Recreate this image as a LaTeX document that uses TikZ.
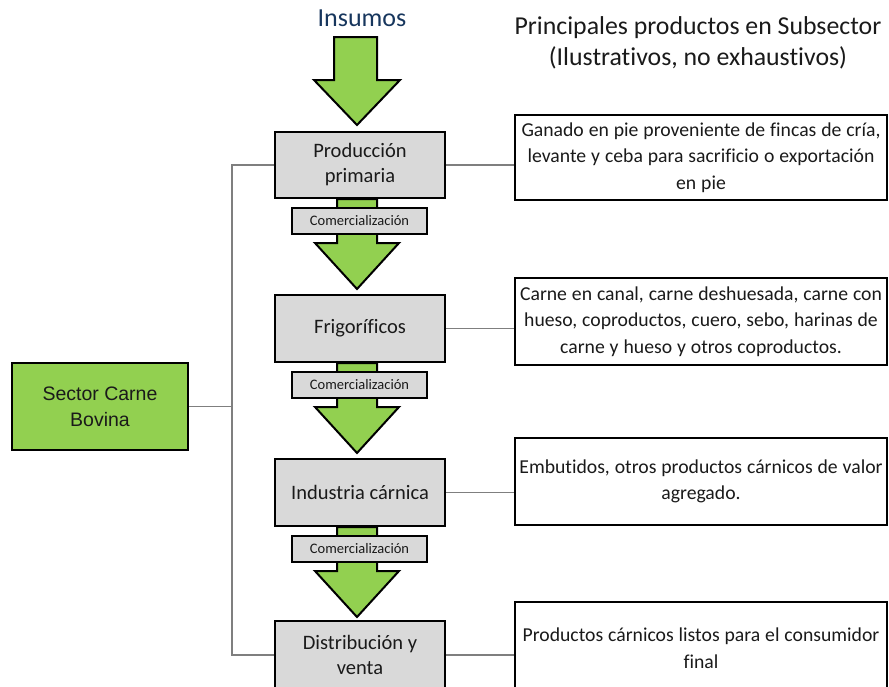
\documentclass[tikz,border=0pt]{standalone}
\usepackage{fontspec}
\setmainfont[Ligatures=NoCommon]{Carlito}
\newfontfamily\arialf{Liberation Sans}
\definecolor{grn}{HTML}{92D050}
\definecolor{lgray}{HTML}{D9D9D9}
\definecolor{lnk}{HTML}{7F7F7F}
\definecolor{navy}{HTML}{17365D}
\definecolor{txt}{HTML}{1A1A1A}
\newcommand\cspc{\spaceskip=0.15em\relax}
\newcommand\rspc{\spaceskip=0.25em plus 0.05em\relax}
\tikzset{
  pbox/.style={draw=black, line width=2pt, fill=lgray, minimum width=170pt, inner sep=0pt,
    align=center, text=txt, font=\fontsize{20.5}{25}\selectfont},
  cbox/.style={draw=black, line width=2pt, fill=lgray, minimum width=135pt, minimum height=26pt,
    inner sep=0pt, text=txt, font=\fontsize{14.5}{16}\selectfont\cspc},
  rbox/.style={draw=black, line width=2pt, fill=white, minimum width=372pt, inner sep=0pt,
    align=center, text=txt, font=\fontsize{19.7}{26.5}\selectfont\rspc},
  sbox/.style={draw=black, line width=2pt, fill=grn, minimum width=176pt, minimum height=87pt,
    inner sep=0pt, align=center, text=txt, font=\arialf\fontsize{19.5}{26}\selectfont},
  arrowf/.style={draw=black, line width=2pt, fill=grn, line join=miter},
  lnkline/.style={draw=lnk, line width=1.5pt}
}
\begin{document}
\begin{tikzpicture}[x=1pt,y=-1pt]
\useasboundingbox (0,0) rectangle (889,686);
\clip (0,0) rectangle (889,686);
% titles
\node[font=\fontsize{26}{30}\selectfont, text=navy] (ins) at (362,18) {Insumos};
\node[font=\fontsize{25.8}{31}\selectfont, text=txt, align=center] (tit) at (698,43)
  {Principales productos en Subsector\\(Ilustrativos, no exhaustivos)};
% input arrow
\path[arrowf] (334,37) -- (377,37) -- (377,80) -- (400,80) -- (357,125) -- (314,80) -- (334,80) -- cycle;
% process boxes
\node[pbox, minimum height=66pt] (p1) at (360,165) {Producción\\primaria};
\node[pbox, minimum height=67pt] (p2) at (360,328.5) {Frigoríficos};
\node[pbox, minimum height=67pt] (p3) at (360,492.5) {Industria cárnica};
\node[pbox, minimum height=68pt] (p4) at (360,655) {Distribución y\\venta};
% flow arrows
\foreach \b in {p1,p2,p3}{
  \path[arrowf] ([xshift=-23pt]\b.south) -- ++(40,0) -- ++(0,44) -- ++(22,0) -- ++(-42,46)
    -- ++(-42,-46) -- ++(22,0) -- cycle;
}
% commercialisation boxes
\node[cbox] (c1) at (359.5,221) {Comercialización};
\node[cbox] (c2) at (359.5,385) {Comercialización};
\node[cbox] (c3) at (359.5,549) {Comercialización};
% product boxes
\node[rbox, minimum height=85pt] (r1) at (701,157.5)
  {Ganado en pie proveniente de fincas de cría,\\levante y ceba para sacrificio o exportación\\en pie};
\node[rbox, minimum height=87pt] (r2) at (701,321.5)
  {Carne en canal, carne deshuesada, carne con\\hueso, coproductos, cuero, sebo, harinas de\\carne y hueso y otros coproductos.};
\node[rbox, minimum height=87pt] (r3) at (701,481.5)
  {Embutidos, otros productos cárnicos de valor\\agregado.};
\node[rbox, minimum height=92pt] (r4) at (701,648)
  {Productos cárnicos listos para el consumidor\\final};
% sector box
\node[sbox] (s) at (100,406.5) {Sector Carne\\Bovina};
% connectors
\foreach \i in {1,2,3,4}{
  \draw[lnkline] (p\i.east) -- (p\i.east -| r\i.west);
}
\coordinate (j) at (232,406.5);
\draw[lnkline] (p1.west) -- (p1.west -| j) -- (p4.west -| j) -- (p4.west);
\draw[lnkline] (s.east) -- (s.east -| j);
\end{tikzpicture}
\end{document}
